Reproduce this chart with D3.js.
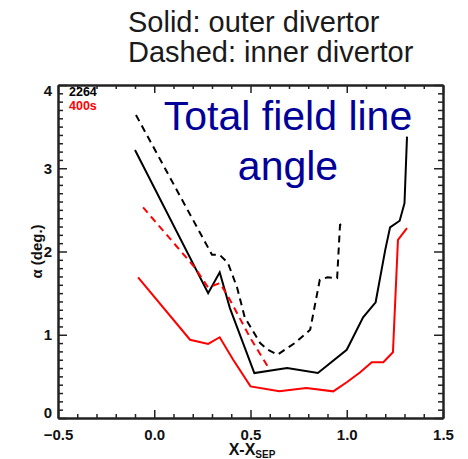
<!DOCTYPE html>
<html>
<head>
<meta charset="utf-8">
<script src="https://cdn.jsdelivr.net/npm/d3@7"></script>
<style>
  body { margin: 0; background: #fff; }
  svg { display: block; font-family: "Liberation Sans", Arial, Helvetica, sans-serif; }
</style>
</head>
<body>
<div id="chart"></div>
<script>
// data
const outer2264X = [-0.1, 0.28, 0.34, 0.393, 0.52, 0.69, 0.85, 1.0, 1.085, 1.15, 1.20, 1.225, 1.275, 1.30, 1.313];
const outer2264Y = [3.22, 1.50, 1.75, 1.32, 0.54, 0.60, 0.54, 0.82, 1.21, 1.39, 2.02, 2.29, 2.37, 2.58, 3.38];

const inner2264X = [-0.095, 0.30, 0.34, 0.383, 0.43, 0.47, 0.55, 0.59, 0.64, 0.73, 0.81, 0.86, 0.90, 0.95, 0.965, 0.99];
const inner2264Y = [3.64, 1.96, 1.96, 1.86, 1.57, 1.21, 0.90, 0.82, 0.76, 0.90, 1.06, 1.66, 1.69, 1.68, 2.32, 2.35];

const outer400X = [-0.084, 0.186, 0.28, 0.34, 0.41, 0.50, 0.65, 0.79, 0.93, 1.0, 1.07, 1.13, 1.19, 1.24, 1.266, 1.313];
const outer400Y = [1.69, 0.94, 0.89, 0.97, 0.70, 0.38, 0.32, 0.36, 0.32, 0.43, 0.55, 0.67, 0.67, 0.79, 2.14, 2.28];

const inner400X = [-0.058, 0.21, 0.279, 0.342, 0.393, 0.497, 0.60];
const inner400Y = [2.53, 1.81, 1.57, 1.62, 1.42, 0.97, 0.58];

const xTicks = [-0.5, 0.0, 0.5, 1.0, 1.5];
const yTicks = [0, 1, 2, 3, 4];
const xMinor = d3.range(-5, 16).map(d => d / 10).filter(d => !xTicks.includes(d));
const yMinor = d3.range(0, 41).map(d => d / 10).filter(d => !yTicks.includes(d));

const W = 468, H = 459;
const plot = {left: 58, right: 443, top: 85, bottom: 418};

const svg = d3.select("#chart").append("svg")
  .attr("width", W).attr("height", H);

const x = d3.scaleLinear().domain([-0.5, 1.5]).range([plot.left, plot.right]);
const y = d3.scaleLinear().domain([0, 4]).range([plot.bottom, plot.top]);

// header text
svg.append("text").attr("x", 128).attr("y", 32)
  .style("font-size", "29px").attr("fill", "#1a1a1a")
  .text("Solid: outer divertor");
svg.append("text").attr("x", 128).attr("y", 62)
  .style("font-size", "29px").attr("fill", "#1a1a1a")
  .text("Dashed: inner divertor");

// axes: major ticks with labels, minor ticks, mirrored on top/right
const styleAxis = g => {
  g.select(".domain").attr("stroke", "#222").attr("stroke-width", 2);
  g.selectAll(".tick line").attr("stroke", "#222").attr("stroke-width", 1.5);
  g.selectAll("text").style("font-size", "15px").style("font-weight", "bold")
    .style("font-family", "'Liberation Sans', Arial, Helvetica, sans-serif").attr("fill", "#111");
};

svg.append("g").attr("transform", `translate(0,${plot.bottom})`)
  .call(d3.axisBottom(x).tickValues(xTicks).tickFormat(d3.format(".1f"))
    .tickSize(-8).tickSizeOuter(0).tickPadding(11))
  .call(styleAxis);
svg.append("g").attr("transform", `translate(0,${plot.bottom})`)
  .call(d3.axisBottom(x).tickValues(xMinor).tickFormat("").tickSize(-4).tickSizeOuter(0))
  .call(styleAxis);
svg.append("g").attr("transform", `translate(0,${plot.top})`)
  .call(d3.axisTop(x).tickValues(xTicks).tickFormat("").tickSize(-8).tickSizeOuter(0))
  .call(styleAxis);
svg.append("g").attr("transform", `translate(0,${plot.top})`)
  .call(d3.axisTop(x).tickValues(xMinor).tickFormat("").tickSize(-4).tickSizeOuter(0))
  .call(styleAxis);

const yAxisG = svg.append("g").attr("transform", `translate(${plot.left},0)`)
  .call(d3.axisLeft(y).tickValues(yTicks).tickFormat(d3.format("d"))
    .tickSize(-9).tickSizeOuter(0).tickPadding(6))
  .call(styleAxis);
// end labels sit inside the axis range, as in the original
yAxisG.selectAll(".tick text")
  .attr("dy", d => d === 0 ? "-0.02em" : d === 4 ? "0.72em" : "0.32em");
svg.append("g").attr("transform", `translate(${plot.left},0)`)
  .call(d3.axisLeft(y).tickValues(yMinor).tickFormat("").tickSize(-5).tickSizeOuter(0))
  .call(styleAxis);
svg.append("g").attr("transform", `translate(${plot.right},0)`)
  .call(d3.axisRight(y).tickValues(yTicks).tickFormat("").tickSize(-9).tickSizeOuter(0))
  .call(styleAxis);
svg.append("g").attr("transform", `translate(${plot.right},0)`)
  .call(d3.axisRight(y).tickValues(yMinor).tickFormat("").tickSize(-5).tickSizeOuter(0))
  .call(styleAxis);

// axis titles
svg.append("text")
  .attr("transform", `translate(42,${(plot.top + plot.bottom) / 2}) rotate(-90)`)
  .attr("text-anchor", "middle")
  .style("font-size", "15px").style("font-weight", "bold").attr("fill", "#111")
  .text("\u03b1 (deg.)");

const xl = svg.append("text")
  .attr("x", 252).attr("y", 455)
  .attr("text-anchor", "middle")
  .style("font-size", "16px").style("font-weight", "bold").attr("fill", "#111");
xl.append("tspan").text("X-X");
xl.append("tspan").attr("dy", 3).style("font-size", "10px").text("SEP");

// the four curves
const line = d3.line().x(d => x(d[0])).y(d => y(d[1]));
const series = [
  {xs: outer2264X, ys: outer2264Y, color: "#000", dash: null},
  {xs: inner2264X, ys: inner2264Y, color: "#000", dash: "7,5"},
  {xs: outer400X, ys: outer400Y, color: "#f00", dash: null},
  {xs: inner400X, ys: inner400Y, color: "#f00", dash: "7,5"}
];
series.forEach(s => {
  svg.append("path")
    .datum(d3.zip(s.xs, s.ys))
    .attr("d", line)
    .attr("fill", "none")
    .attr("stroke", s.color)
    .attr("stroke-width", 2)
    .attr("stroke-dasharray", s.dash);
});

// shot labels
svg.append("text").attr("x", 69).attr("y", 96)
  .style("font-size", "12.5px").style("font-weight", "bold").attr("fill", "#000")
  .text("2264");
svg.append("text").attr("x", 69).attr("y", 110)
  .style("font-size", "12.5px").style("font-weight", "bold").attr("fill", "#f00")
  .text("400s");

// big annotation
svg.append("text").attr("x", 288).attr("y", 130).attr("text-anchor", "middle")
  .style("font-size", "41px").attr("fill", "#000099")
  .text("Total field line");
svg.append("text").attr("x", 288).attr("y", 180).attr("text-anchor", "middle")
  .style("font-size", "41px").attr("fill", "#000099")
  .text("angle");
</script>
</body>
</html>
